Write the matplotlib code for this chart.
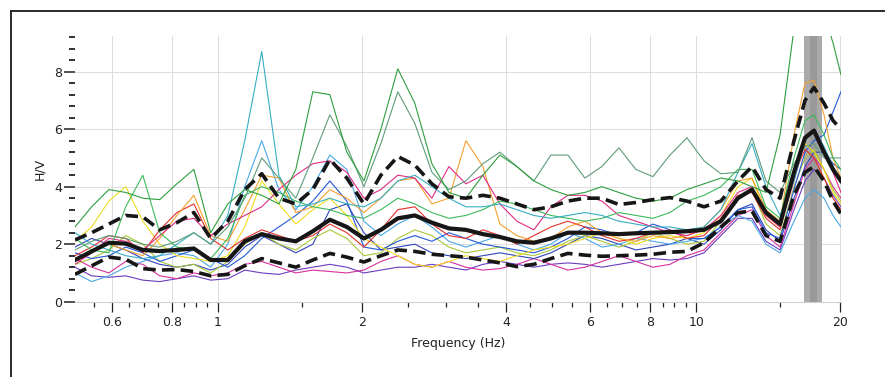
import numpy as np
import matplotlib
matplotlib.use("Agg")
import matplotlib.pyplot as plt
from matplotlib.lines import Line2D

# frequency samples (Hz), shared by every H/V curve
freq = [0.502, 0.544, 0.591, 0.641, 0.696, 0.755, 0.820, 0.890, 0.965, 1.048,
        1.137, 1.234, 1.340, 1.454, 1.578, 1.713, 1.859, 2.018, 2.190, 2.376,
        2.579, 2.800, 3.039, 3.298, 3.579, 3.885, 4.216, 4.576, 4.966, 5.390,
        5.849, 6.348, 6.890, 7.478, 8.116, 8.810, 9.561, 10.38, 11.26, 12.22,
        13.08, 13.99, 14.97, 16.01, 16.88, 17.63, 18.50, 19.32, 20.07]

# individual window H/V curves
hv_green = [2.6, 3.3, 3.9, 3.8, 3.6, 3.55, 4.1, 4.6, 2.4, 3.4,
            3.9, 3.7, 3.4, 4.6, 7.3, 7.2, 5.2, 4.2, 6.0, 8.1,
            6.9, 4.8, 3.8, 3.6, 4.4, 5.1, 4.7, 4.2, 3.9, 3.7,
            3.8, 4.0, 3.8, 3.6, 3.5, 3.6, 3.9, 4.1, 4.3, 4.2,
            4.0, 3.8, 5.8, 9.5, 10.0, 10.0, 10.0, 9.0, 7.9]
hv_teal = [2.4, 2.0, 1.8, 1.6, 1.5, 1.6, 2.0, 2.4, 2.0, 3.0,
           5.6, 8.7, 4.4, 3.3, 3.4, 3.6, 3.4, 3.3, 3.6, 4.2,
           4.4, 4.0, 3.6, 3.3, 3.3, 3.4, 3.2, 3.0, 2.9, 3.0,
           3.1, 3.0, 2.8, 2.7, 2.6, 2.6, 2.5, 2.6, 3.2, 4.5,
           5.5, 4.0, 3.0, 4.2, 5.6, 6.0, 5.4, 4.7, 4.2]
hv_sage = [1.8, 2.1, 2.3, 2.2, 2.0, 1.9, 2.1, 2.4, 2.0, 2.6,
           3.6, 5.0, 4.3, 3.6, 5.0, 6.5, 5.4, 4.0, 5.5, 7.3,
           6.2, 4.5, 3.9, 4.2, 4.8, 5.2, 4.7, 4.2, 5.1, 5.1,
           4.3, 4.7, 5.35, 4.6, 4.35, 5.1, 5.7, 4.9, 4.45, 4.5,
           5.7, 4.2, 3.8, 4.8, 5.4, 5.5, 5.0, 5.0, 5.0]
hv_yellow = [2.1, 2.6, 3.5, 4.0, 2.8, 2.0, 1.6, 1.5, 1.4, 1.6,
             2.6, 4.2, 3.4, 2.7, 3.2, 3.6, 3.0, 2.2, 1.9, 1.6,
             1.3, 1.2, 1.4, 1.6, 1.5, 1.4, 1.6, 1.8, 1.9, 2.0,
             2.2, 2.4, 2.2, 2.0, 2.2, 2.3, 2.2, 2.4, 3.0, 4.0,
             4.3, 3.0, 2.6, 4.6, 5.5, 5.2, 4.6, 3.8, 3.4]
hv_orange = [1.5, 1.7, 2.0, 1.8, 1.6, 2.2, 3.0, 3.7, 2.3, 2.1,
             3.2, 4.4, 4.3, 3.1, 3.3, 3.9, 3.6, 3.1, 3.6, 4.2,
             4.3, 3.4, 3.6, 5.6, 4.7, 2.7, 2.3, 2.1, 2.2, 2.6,
             2.8, 2.4, 2.2, 2.1, 2.3, 2.2, 2.3, 2.6, 3.2, 4.2,
             4.3, 3.2, 2.8, 5.8, 7.6, 7.7, 6.5, 5.0, 4.3]
hv_red = [1.6, 1.9, 2.3, 2.2, 1.7, 2.5, 3.1, 3.4, 2.2, 1.8,
          2.2, 2.5, 2.3, 2.1, 2.3, 2.7, 2.4, 1.9, 2.5, 3.2,
          3.3, 2.7, 2.3, 2.2, 2.5, 2.3, 2.0, 2.3, 2.6, 2.8,
          2.6, 2.3, 2.1, 2.2, 2.4, 2.5, 2.2, 2.3, 2.9, 3.7,
          3.8, 2.9, 2.5, 4.4, 5.3, 5.0, 4.3, 3.6, 3.2]
hv_magenta = [1.3, 1.7, 2.2, 2.1, 1.8, 2.3, 2.8, 2.9, 2.3, 2.7,
              3.0, 3.3, 3.9, 4.4, 4.8, 4.9, 4.5, 3.6, 3.9, 4.4,
              4.3, 3.6, 4.7, 4.1, 4.4, 3.4, 2.8, 2.5, 3.3, 3.7,
              3.7, 3.5, 3.0, 2.8, 2.6, 2.4, 2.3, 2.5, 3.0, 3.8,
              4.0, 3.0, 2.6, 4.2, 5.6, 6.0, 5.3, 4.5, 3.8]
hv_blue = [1.7, 1.5, 1.6, 1.9, 1.7, 1.4, 1.6, 1.8, 1.5, 1.2,
           1.6, 2.2, 2.6, 3.0, 3.5, 4.2, 3.5, 1.9, 1.8, 2.1,
           2.3, 2.1, 2.4, 2.2, 2.0, 1.9, 1.8, 1.7, 1.9, 2.2,
           2.6, 2.5, 2.3, 2.4, 2.7, 2.5, 2.2, 2.2, 2.6, 3.2,
           3.3, 2.4, 2.2, 3.9, 5.2, 5.6, 5.8, 6.6, 7.3]
hv_skyblue = [1.0, 0.7, 0.9, 1.2, 1.4, 1.6, 1.7, 1.6, 1.2, 2.0,
              4.0, 5.6, 3.9, 3.2, 4.0, 5.1, 4.6, 2.8, 2.3, 2.7,
              3.0, 2.6, 2.1, 1.9, 2.1, 2.3, 2.0, 1.8, 2.0, 2.4,
              2.2, 1.9, 2.0, 2.2, 2.1, 2.0, 2.1, 2.2, 2.6, 3.0,
              2.8, 2.0, 1.7, 2.8, 3.6, 3.9, 3.6, 3.0, 2.6]
hv_purple = [1.2, 0.9, 0.85, 0.9, 0.75, 0.7, 0.8, 0.9, 0.75, 0.8,
             1.1, 1.0, 0.95, 1.1, 1.2, 1.3, 1.2, 1.0, 1.1, 1.2,
             1.2, 1.3, 1.2, 1.1, 1.3, 1.4, 1.3, 1.2, 1.3, 1.35,
             1.3, 1.2, 1.3, 1.4, 1.5, 1.45, 1.5, 1.7, 2.3, 2.9,
             2.9, 2.1, 1.8, 3.2, 4.2, 4.6, 4.3, 3.7, 3.3]
hv_pink = [1.5, 1.2, 1.0, 1.4, 1.3, 0.9, 0.8, 1.0, 0.9, 1.0,
           1.3, 1.4, 1.2, 1.0, 1.1, 1.05, 1.0, 1.1, 1.4, 1.6,
           1.3, 1.2, 1.4, 1.2, 1.1, 1.15, 1.3, 1.5, 1.3, 1.1,
           1.2, 1.4, 1.6, 1.4, 1.2, 1.3, 1.6, 1.8, 2.4, 3.0,
           3.2, 2.3, 1.9, 3.4, 4.6, 5.0, 4.6, 4.0, 3.6]
hv_navy = [1.9, 2.2, 2.0, 1.8, 1.5, 1.3, 1.2, 1.3, 1.1, 1.3,
           1.9, 2.3, 2.0, 1.7, 2.0, 3.2, 3.4, 2.4, 1.8, 1.9,
           2.0, 1.7, 1.6, 1.5, 1.6, 1.7, 1.6, 1.5, 1.7, 2.0,
           2.3, 2.2, 2.0, 1.8, 1.9, 2.0, 2.2, 2.0, 2.5, 3.2,
           3.4, 2.5, 2.1, 3.6, 4.7, 5.2, 5.2, 4.8, 4.6]
hv_olive = [1.3, 1.5, 1.8, 2.3, 2.0, 1.4, 1.2, 1.3, 1.0, 1.4,
            2.0, 2.4, 2.0, 1.8, 2.2, 2.5, 2.2, 1.6, 1.7, 2.2,
            2.5, 2.3, 1.9, 1.7, 1.8, 1.9, 1.7, 1.6, 1.8, 2.1,
            2.3, 2.1, 1.9, 2.1, 2.4, 2.2, 2.0, 2.1, 2.8, 3.6,
            3.9, 2.7, 2.3, 4.0, 5.0, 5.3, 4.6, 3.9, 3.5]
hv_lime = [2.2, 1.8, 1.7, 3.3, 4.4, 2.4, 1.9, 1.8, 1.5, 2.2,
           3.7, 4.0, 3.8, 3.5, 3.3, 3.2, 3.0, 2.9, 3.2, 3.6,
           3.4, 3.1, 2.9, 3.0, 3.2, 3.5, 3.4, 3.2, 3.0, 2.9,
           2.8, 2.9, 3.1, 3.0, 2.9, 3.1, 3.5, 3.7, 4.0, 4.6,
           4.6, 3.3, 2.9, 5.0, 6.3, 6.5, 5.8, 5.0, 4.6]

# average curve and +/- one standard deviation
hv_mean = [1.45, 1.75, 2.05, 2.02, 1.80, 1.76, 1.80, 1.85, 1.45, 1.45,
           2.10, 2.35, 2.20, 2.10, 2.45, 2.85, 2.60, 2.20, 2.50, 2.90,
           3.00, 2.75, 2.55, 2.50, 2.35, 2.25, 2.10, 2.05, 2.20, 2.40,
           2.40, 2.38, 2.35, 2.38, 2.40, 2.42, 2.45, 2.50, 2.80, 3.60,
           3.90, 3.10, 2.70, 4.50, 5.70, 5.95, 5.20, 4.60, 4.20]
hv_upper = [2.15, 2.40, 2.70, 3.00, 2.95, 2.50, 2.75, 3.10, 2.20, 2.80,
            3.90, 4.45, 3.60, 3.40, 3.90, 4.95, 4.30, 3.40, 4.40, 5.05,
            4.75, 4.10, 3.65, 3.60, 3.70, 3.60, 3.40, 3.20, 3.30, 3.50,
            3.60, 3.60, 3.38, 3.45, 3.55, 3.62, 3.50, 3.30, 3.50, 4.20,
            4.70, 3.90, 3.60, 5.60, 7.00, 7.45, 6.90, 6.30, 6.00]
hv_lower = [0.95, 1.25, 1.55, 1.48, 1.15, 1.10, 1.12, 1.05, 0.90, 0.95,
            1.25, 1.50, 1.35, 1.20, 1.45, 1.68, 1.55, 1.38, 1.60, 1.80,
            1.75, 1.65, 1.60, 1.55, 1.45, 1.35, 1.22, 1.30, 1.50, 1.68,
            1.62, 1.58, 1.60, 1.62, 1.65, 1.72, 1.75, 2.05, 2.60, 3.10,
            3.15, 2.30, 2.10, 3.70, 4.50, 4.70, 4.20, 3.50, 3.05]

# peak frequency band (f0 +/- std) and its centre
f0_band = (16.8, 18.35)
f0_core = (17.3, 17.85)

windows = [
    (hv_purple, "#6a3cc0"), (hv_pink, "#d8309a"), (hv_navy, "#3044b8"),
    (hv_olive, "#a8c838"), (hv_skyblue, "#4aa8e8"), (hv_blue, "#2458d8"),
    (hv_yellow, "#f0dc1e"), (hv_red, "#e2302c"), (hv_orange, "#f4a030"),
    (hv_magenta, "#e02c86"), (hv_lime, "#3cba5a"), (hv_teal, "#38aec4"),
    (hv_sage, "#5e9c78"), (hv_green, "#2e9e3e"),
]

plt.rcParams['font.family'] = 'DejaVu Sans'
plt.rcParams['lines.scale_dashes'] = False

fig = plt.figure(figsize=(8.85, 3.77), dpi=100)
ax = fig.add_axes([0.0847, 0.1997, 0.8655, 0.7048])

ax.axvspan(f0_band[0], f0_band[1], color="#aaaaaa", lw=0, zorder=1)
ax.axvspan(f0_core[0], f0_core[1], color="#999999", lw=0, zorder=1)

for vals, col in windows:
    ax.plot(freq, vals, color=col, lw=0.8, zorder=2)

ax.plot(freq, hv_upper, color="#161616", lw=2.6, dashes=(9, 4.5), zorder=3)
ax.plot(freq, hv_lower, color="#161616", lw=2.6, dashes=(9, 4.5), zorder=3)
ax.plot(freq, hv_mean, color="#161616", lw=3.0, zorder=4)

ax.set_xscale("log")
ax.set_xlim(0.502, 20.07)
ax.set_ylim(0, 9.24)

xmajor = [0.6, 0.8, 1, 2, 4, 6, 8, 10, 20]
xminor = [0.55, 0.65, 0.7, 0.75, 0.85, 0.9, 0.95, 1.5, 2.5, 3, 3.5, 4.5, 5,
          5.5, 6.5, 7, 7.5, 8.5, 9, 9.5, 15]
ax.set_xticks(xmajor)
ax.set_xticklabels(["0.6", "0.8", "1", "2", "4", "6", "8", "10", "20"])
ax.set_xticks(xminor, minor=True)
ax.set_xticklabels([], minor=True)
ax.set_yticks([0, 2, 4, 6, 8])
ax.set_yticks(np.arange(0, 9.3, 0.4), minor=True)

ax.grid(True, which="major", color="#dcdcdc", lw=0.7, zorder=0)
ax.set_axisbelow(True)

for side in ["left", "top", "right"]:
    ax.spines[side].set_visible(False)
ax.spines["bottom"].set_color("#d0d0d0")
ax.spines["bottom"].set_linewidth(0.8)

ax.tick_params(axis="x", which="major", length=7, width=0.9, color="#222222",
               labelsize=9, labelcolor="#222222", pad=3)
ax.tick_params(axis="x", which="minor", length=3.5, width=0.9, color="#222222")
ax.tick_params(axis="y", which="major", length=8, width=1.1, color="#222222",
               labelsize=9, labelcolor="#222222", pad=1)
ax.tick_params(axis="y", which="minor", length=4, width=1.3, color="#222222")

ax.set_xlabel("Frequency (Hz)", fontsize=9, color="#222222", labelpad=6)
ax.set_ylabel("H/V", fontsize=9, color="#222222", labelpad=6)

# outer panel border (top and left edges)
fig.add_artist(Line2D([11 / 885, 1.0], [1 - 11 / 377, 1 - 11 / 377],
                      color="#2a2a2a", lw=1.4))
fig.add_artist(Line2D([11 / 885, 11 / 885], [0.0, 1 - 11 / 377],
                      color="#2a2a2a", lw=1.4))

fig.savefig("out.png", dpi=100)
